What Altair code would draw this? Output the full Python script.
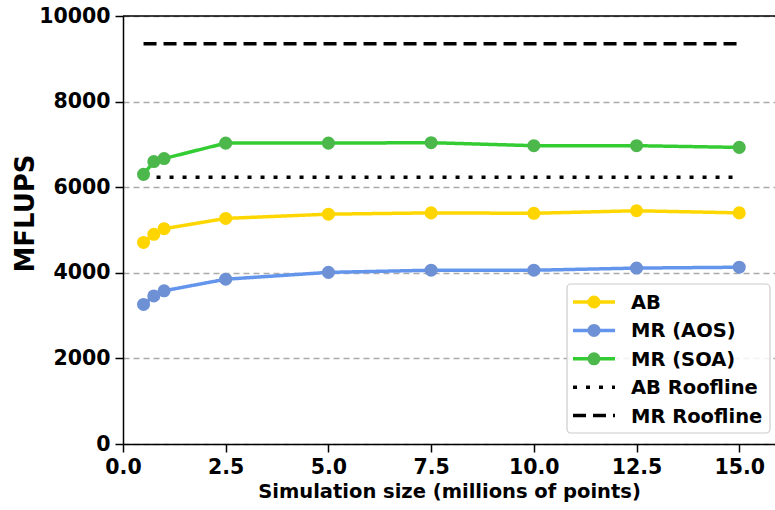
import altair as alt
import pandas as pd

# Simulation sizes (millions of points) and measured throughput (MFLUPS)
sizes = [0.5, 0.75, 1.0, 2.5, 5.0, 7.5, 10.0, 12.5, 15.0]
ab = [4710, 4900, 5030, 5270, 5370, 5400, 5390, 5450, 5400]
mr_aos = [3260, 3460, 3580, 3850, 4010, 4060, 4060, 4110, 4130]
mr_soa = [6300, 6600, 6670, 7030, 7030, 7040, 6970, 6970, 6930]

# Roofline estimates, drawn across the measured size range
ab_roofline = 6230
mr_roofline = 9350
roof_span = [0.5, 15.0]

series = ["AB", "MR (AOS)", "MR (SOA)", "AB Roofline", "MR Roofline"]
line_colors = ["#ffd700", "#6495ed", "#33cc33", "#000000", "#000000"]
marker_colors = ["#ffd500", "#6e91d6", "#4cb84c"]
dashes = [[1, 0], [1, 0], [1, 0], [4, 9], [13, 7]]

x_ticks = [0, 2.5, 5, 7.5, 10, 12.5, 15]
y_ticks = [0, 2000, 4000, 6000, 8000, 10000]

FONT = "DejaVu Sans"
W, H = 652, 428

measured = pd.DataFrame(
    [(s, x, v) for s, vals in zip(series[:3], [ab, mr_aos, mr_soa]) for x, v in zip(sizes, vals)],
    columns=["series", "size", "mflups"],
)
roofs = pd.DataFrame(
    [(s, x, v) for s, v in zip(series[3:], [ab_roofline, mr_roofline]) for x in roof_span],
    columns=["series", "size", "mflups"],
)
lines_df = pd.concat([measured, roofs], ignore_index=True)

x_enc = alt.X(
    "size:Q",
    title="Simulation size (millions of points)",
    scale=alt.Scale(domain=[0, 15.87], nice=False, zero=False),
    axis=alt.Axis(values=x_ticks, format=".1f", grid=False, labelFlush=False,
                  labelPadding=5, titlePadding=5, titleFontSize=19.5),
)
y_enc = alt.Y(
    "mflups:Q",
    title="MFLUPS",
    scale=alt.Scale(domain=[0, 10000], nice=False),
    axis=alt.Axis(values=y_ticks, format="d", grid=True, gridDash=[6, 4], labelFlush=False,
                  gridColor="#aaaaaa", gridWidth=1.5, labelPadding=5,
                  titleFontSize=26, titleX=-98, titleY=197, titleAlign="center",
                  titleBaseline="middle", titleAngle=270),
)

stroke_scale = alt.Scale(domain=series, range=line_colors)
dash_scale = alt.Scale(domain=series, range=dashes)

lines = alt.Chart(lines_df).mark_line(strokeWidth=3.5, clip=True).encode(
    x=x_enc,
    y=y_enc,
    stroke=alt.Stroke("series:N", scale=stroke_scale, legend=None),
    strokeDash=alt.StrokeDash("series:N", scale=dash_scale, legend=None),
    order="size:Q",
)

points = alt.Chart(measured).mark_circle(size=170, opacity=1).encode(
    x="size:Q",
    y="mflups:Q",
    fill=alt.Fill("series:N", scale=alt.Scale(domain=series[:3], range=marker_colors), legend=None),
)

top_spine = alt.Chart(pd.DataFrame({"v": [10000]})).mark_rule(
    color="black", strokeWidth=1.5
).encode(y=alt.datum(10000))

# Legend box in the lower right of the plot
LX0, LX1, LY0, LY1 = 444, 647, 268, 417
legend_layers = [
    alt.Chart(pd.DataFrame({"series": ["box"]})).mark_rect(
        fill="white", fillOpacity=0.85, stroke="#cccccc", strokeWidth=1.2, cornerRadius=4
    ).encode(x=alt.value(LX0), x2=alt.value(LX1), y=alt.value(LY0), y2=alt.value(LY1))
]
row_step = 28.4
for i, name in enumerate(series):
    yy = LY0 + 18 + i * row_step
    row = pd.DataFrame({"series": [name]})
    legend_layers.append(
        alt.Chart(row).mark_rule(strokeWidth=3.5, strokeDash=dashes[i], color=line_colors[i]).encode(
            x=alt.value(450), x2=alt.value(492), y=alt.value(yy)
        )
    )
    if i < 3:
        legend_layers.append(
            alt.Chart(row).mark_circle(size=170, opacity=1, color=marker_colors[i]).encode(
                x=alt.value(471), y=alt.value(yy)
            )
        )
    legend_layers.append(
        alt.Chart(row).mark_text(
            align="left", baseline="middle", font=FONT, fontSize=19.5, fontWeight="bold", color="black"
        ).encode(x=alt.value(508), y=alt.value(yy + 1), text="series:N")
    )

chart = alt.layer(lines, points, top_spine, *legend_layers).properties(
    width=W,
    height=H,
    padding={"left": 123, "top": 16, "right": 0, "bottom": 66},
    autosize=alt.AutoSizeParams(type="none"),
    background="white",
).configure_view(stroke=None).configure_axis(
    labelFont=FONT,
    labelFontSize=20.5,
    labelFontWeight="bold",
    labelColor="black",
    titleFont=FONT,
    titleFontWeight="bold",
    titleColor="black",
    domainColor="black",
    domainWidth=1.5,
    tickColor="black",
    tickWidth=1.5,
    tickSize=8,
)

chart.save("out.html", embed_options={"renderer": "svg", "actions": False})
